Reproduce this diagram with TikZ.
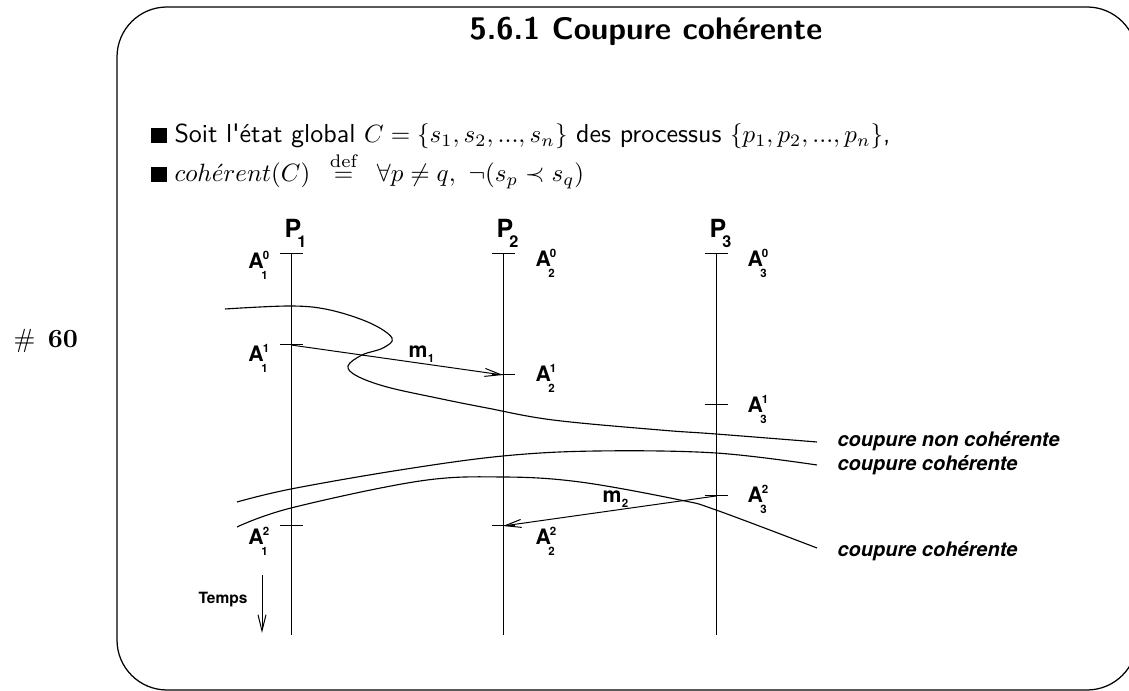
\documentclass[tikz,border=0pt]{standalone}
\usepackage{amsmath}
\usepackage{amssymb}
\usepackage{fontspec}
\newfontfamily\helv{TeX Gyre Heros}
\usepackage{tikz}
\usetikzlibrary{arrows.meta}

\newcommand{\idx}{\fontsize{4.6}{5}\selectfont}
\newcommand{\Aev}[2]{A\hspace{-0.4pt}\rlap{\raisebox{3.7pt}{\idx #1}}\hspace{-0.6pt}\raisebox{-4.4pt}{\idx #2}}
\newcommand{\Pev}[1]{P\hspace{-1.5pt}\raisebox{-4pt}{\fontsize{6.5}{7}\selectfont #1}}
\newcommand{\Mev}[1]{m\hspace{0.2pt}\raisebox{-1.8pt}{\idx #1}}

\tikzset{
  lbl/.style={font=\helv\bfseries\fontsize{8.5}{9}\selectfont,inner sep=0pt,anchor=base west},
  plbl/.style={font=\helv\bfseries\fontsize{10}{11}\selectfont,inner sep=0pt,anchor=base west},
  cutlbl/.style={font=\helv\bfseries\itshape\fontsize{8}{9}\selectfont,inner sep=0pt,anchor=base west},
  deftxt/.style={font=\sffamily\fontsize{10.4}{12.5}\selectfont,inner sep=0pt,anchor=base west},
  cut/.style={line width=0.45pt},
}

\begin{document}
\begin{tikzpicture}[x=0.4pt,y=-0.4pt,line width=0.4pt,
    >={Straight Barb[length=6.5pt,width=3.2pt]}]
  \useasboundingbox (0,0) rectangle (1129,691);
  % slide frame
  \draw[line width=0.5pt,rounded corners=20pt] (117,7) rectangle (1137,690);
  \node[anchor=base west,inner sep=0pt] (num) at (13,348) {\fontsize{10.5}{12}\selectfont$\#$\hspace{5pt}\textbf{60}};
  \node[anchor=base,inner sep=0pt,font=\sffamily\bfseries\fontsize{12.5}{15}\selectfont] (title) at (646,40) {5.6.1 Coupure cohérente};
  % definitions
  \node[deftxt] (def1) at (151,143)
    {\rule{6pt}{6pt}\hspace{3.2pt}Soit l\textquotesingle état global $C=\{s_1,s_2,...,s_n\}$ des processus $\{p_1,p_2,...,p_n\}$,};
  \node[deftxt] (def2) at (151,182)
    {\rule{6pt}{6pt}\hspace{3.2pt}$coh\acute{e}rent(C)\ \,\mathrel{\smash{\stackrel{\mathrm{def}}{=}}}\ \,\forall p\neq q,\ \neg(s_p\prec s_q)$};
  % processes
  \coordinate (a10) at (291,254); \coordinate (a11) at (291,345); \coordinate (a12) at (291,526);
  \coordinate (a20) at (503,254); \coordinate (a21) at (503,375); \coordinate (a22) at (503,526);
  \coordinate (a30) at (716,254); \coordinate (a31) at (716,405); \coordinate (a32) at (716,496);
  \coordinate (e1) at (291,635); \coordinate (e2) at (503,635); \coordinate (e3) at (716,635);
  \draw (a10) -- (e1);
  \draw (a20) -- (e2);
  \draw (a30) -- (e3);
  \foreach \e in {a10,a11,a12,a20,a21,a22,a30,a31,a32}
    \draw ([xshift=-4.6pt]\e) -- ([xshift=4.6pt]\e);
  \node[plbl] (p1) at (284,238) {\Pev{1}};
  \node[plbl] (p2) at (496,238) {\Pev{2}};
  \node[plbl] (p3) at (709,238) {\Pev{3}};
  % events
  \node[lbl] (la10) at (248,269) {\Aev{0}{1}};
  \node[lbl] (la11) at (248,362) {\Aev{1}{1}};
  \node[lbl] (la12) at (248,545) {\Aev{2}{1}};
  \node[lbl] (la20) at (535,267) {\Aev{0}{2}};
  \node[lbl] (la21) at (535,382) {\Aev{1}{2}};
  \node[lbl] (la22) at (535,545) {\Aev{2}{2}};
  \node[lbl] (la30) at (747,267) {\Aev{0}{3}};
  \node[lbl] (la31) at (747,413) {\Aev{1}{3}};
  \node[lbl] (la32) at (747,503) {\Aev{2}{3}};
  % messages
  \draw[->] (a11) -- (a21);
  \draw[->] (a32) -- (a22);
  \node[lbl] (m1) at (408,358) {\Mev{1}};
  \node[lbl] (m2) at (602,503) {\Mev{2}};
  % cuts
  \node[cutlbl] (nc) at (837,447) {coupure non cohérente};
  \node[cutlbl] (c1) at (837,471) {coupure cohérente};
  \node[cutlbl] (c2) at (837,557) {coupure cohérente};
  \draw[cut] plot[smooth,tension=0.6] coordinates {(225,309) (291,306) (330,310) (370,323) (392,338)
    (383,348) (362,355) (348,366) (357,376) (387,387) (437,398) (487,408) (553,420) (660,430) (716,434) (817,442)};
  \draw[cut] plot[smooth,tension=0.6] coordinates {(237,502) (291,489) (400,470) (503,456) (597,451) (716,453) (817,465)};
  \draw[cut] plot[smooth,tension=0.6] coordinates {(237,527) (291,508) (420,481) (503,477) (580,482) (680,500) (716,510) (817,548)};
  % time
  \coordinate (t0) at (262,575); \coordinate (t1) at (262,633);
  \draw[->] (t0) -- (t1);
  \node[anchor=base east,inner sep=0pt,font=\helv\bfseries\fontsize{6.2}{7}\selectfont] (temps) at (248,604) {Temps};
\end{tikzpicture}
\end{document}
